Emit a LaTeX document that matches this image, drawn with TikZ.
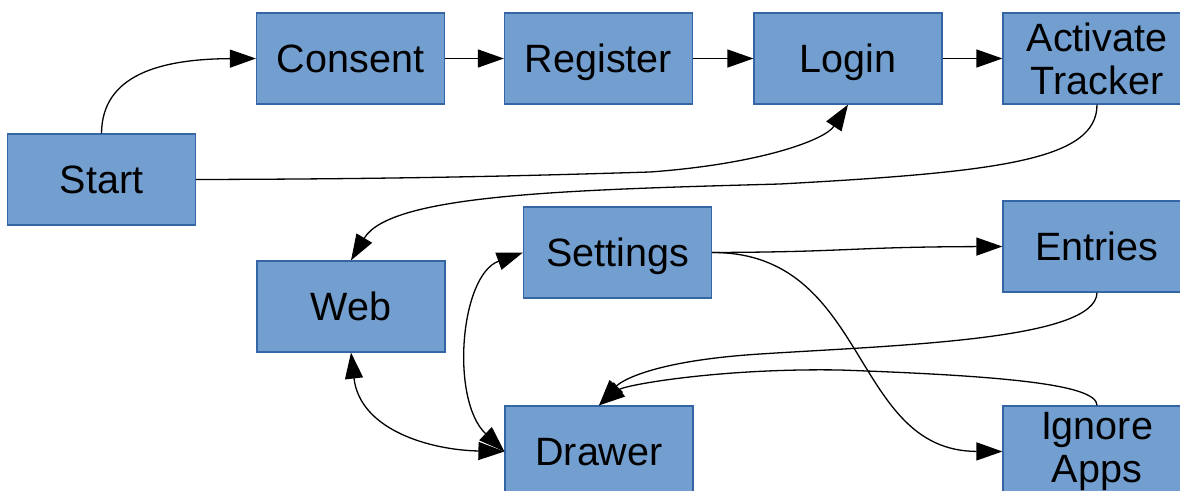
\documentclass[tikz,border=0pt]{standalone}
\usepackage{fontspec}
\setmainfont{Liberation Sans}
\usetikzlibrary{arrows.meta}
\definecolor{boxfill}{HTML}{729FCF}
\definecolor{boxline}{HTML}{3465A4}
\begin{document}
\begin{tikzpicture}[x=1pt,y=-1pt,
  box/.style={draw=boxline, fill=boxfill, line width=1.2pt,
    minimum width=188pt, minimum height=91pt, inner sep=0pt,
    align=center, font=\fontsize{39.5}{43}\selectfont},
  onebox/.style={box, text height=28pt, text depth=0pt},
  tip/.tip={Triangle[length=26pt,width=18pt]},
  link/.style={line width=1.3pt, -tip},
  twoway/.style={line width=1.3pt, tip-tip}]
\clip (0,0) rectangle (1180,490);
\fill[white] (0,0) rectangle (1180,490);

% boxes
\node[onebox] (start)    at (101.5,179.5) {Start};
\node[onebox] (consent)  at (350.5,58.5)  {Consent};
\node[onebox] (register) at (598.5,58.5)  {Register};
\node[onebox] (login)    at (848,58.5)    {Login};
\node[box]    (activate) at (1097,58.5)   {Activate\\Tracker};
\node[onebox] (web)      at (351,306.5)   {Web};
\node[onebox] (settings) at (617.5,252.5) {Settings};
\node[onebox] (entries)  at (1097,246.5)  {Entries};
\node[onebox] (drawer)   at (599,451.5)   {Drawer};
\node[box]    (ignore)   at (1097,451.5)  {Ignore\\Apps};

% top row
\draw[link] (start.north) .. controls (102,75) and (160,59) .. (consent.west);
\draw[link] (consent.east) -- (register.west);
\draw[link] (register.east) -- (login.west);
\draw[link] (login.east) -- (activate.west);

% start to login
\draw[link] (start.east) .. controls (400,179) and (520,176) .. (650,172)
  .. controls (760,164) and (825,140) .. (login.south);

% activate tracker to web
\draw[link] (activate.south) .. controls (1097,160) and (1000,172) .. (780,184)
  .. controls (560,190) and (390,195) .. (web.north);

% drawer links
\draw[twoway] (web.south) .. controls (360,430) and (430,450) .. (drawer.west);
\draw[twoway] (settings.west) .. controls (460,275) and (450,400) .. (drawer.west);

% settings branches
\draw[link] (settings.east) .. controls (850,252) and (850,247) .. (entries.west);
\draw[link] (settings.east) .. controls (870,252) and (850,451) .. (ignore.west);

% back to drawer
\draw[link] (entries.south) .. controls (1096,340) and (900,345) .. (760,354)
  .. controls (650,361) and (620,382) .. (drawer.north);
\draw[link] (ignore.north) .. controls (1097,385) and (1010,376) .. (840,370)
  .. controls (720,368) and (625,385) .. (drawer.north);
\end{tikzpicture}
\end{document}
